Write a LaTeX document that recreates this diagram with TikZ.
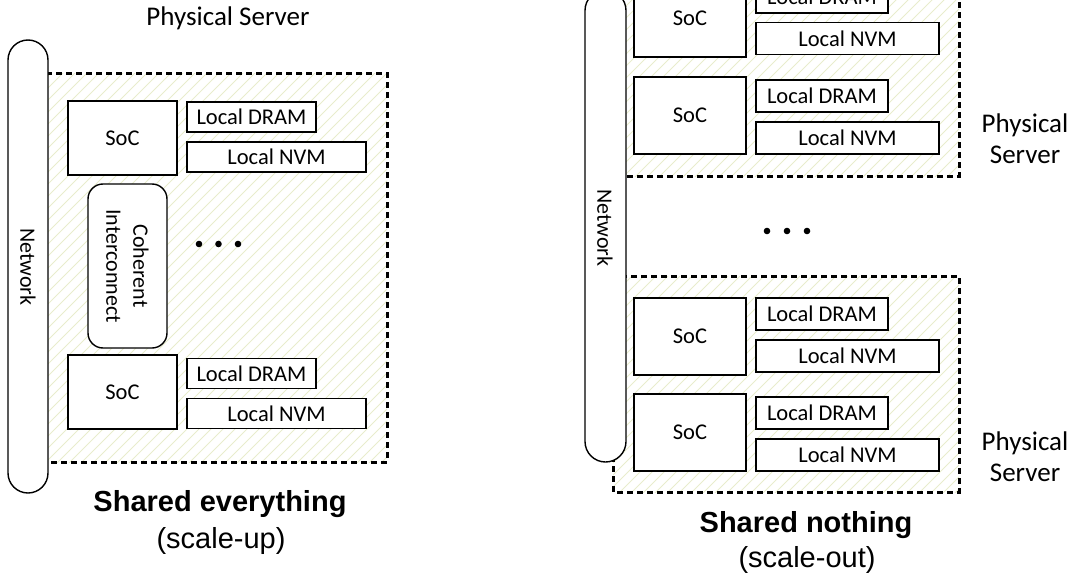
\documentclass[tikz,border=0pt]{standalone}
\usepackage{fontspec}
\setmainfont{Carlito}
\newfontfamily\arialf{Liberation Sans}
\definecolor{hatchc}{RGB}{232,236,205}
\begin{document}
\begin{tikzpicture}[x=1pt,y=-1pt,
  box/.style={draw, line width=1.4pt, fill=white, inner sep=0pt, font=\fontsize{22.5}{26}\selectfont},
  lsoc/.style={box, minimum width=109pt, minimum height=74pt},
  ldram/.style={box, minimum width=129pt, minimum height=30pt},
  lnvm/.style={box, minimum width=179pt, minimum height=30pt},
  rsoc/.style={box, minimum width=112pt, minimum height=77pt},
  rdram/.style={box, minimum width=132pt, minimum height=32pt},
  rnvm/.style={box, minimum width=183pt, minimum height=32pt},
  pill/.style={draw, line width=1.4pt, fill=white, inner sep=0pt, rounded corners=20pt},
  server/.style={draw, line width=3pt, dash pattern=on 6pt off 4pt},
  hatch/.style={draw=hatchc, line width=0.9pt},
  lbl/.style={font=\fontsize{22}{27}\selectfont, align=center},
  plbl/.style={font=\fontsize{27}{31}\selectfont, align=center},
  title/.style={font=\arialf\bfseries\fontsize{29}{33}\selectfont},
  sub/.style={font=\arialf\fontsize{29}{33}\selectfont},
  dot/.style={fill=black}
]
\path[use as bounding box, clip] (0,0) rectangle (1073,578);

% ---------- left: shared everything ----------
\begin{scope}
  \clip (48,73) rectangle (387,462);
  \foreach \i in {-500,-488,...,400} { \draw[hatch] (\i,480) -- ++(450,-450); }
\end{scope}
\draw[server] (40,73) rectangle (387,462);

\node[pill, minimum width=40pt, minimum height=453pt] (netL) at (28,266.5) {};
\node[lbl, rotate=-90] (netLt) at (28,267) {Network};

\node[plbl] (psL) at (228,18) {Physical Server};

\node[lsoc] (socL1) at (122.5,138) {SoC};
\node[ldram] (dramL1) at (251.5,117) {Local DRAM};
\node[lnvm] (nvmL1) at (276.5,157) {Local NVM};

\node[draw, line width=1.4pt, fill=white, rounded corners=15pt, minimum width=79pt, minimum height=164pt, inner sep=0pt] (ci) at (127.5,266) {};
\node[lbl, rotate=-90] (cit) at (127.5,266) {Coherent\\Interconnect};

\fill[dot] (199,244) circle (3.3pt) (218.5,244) circle (3.3pt) (238,244) circle (3.3pt);

\node[lsoc] (socL2) at (122.5,392) {SoC};
\node[ldram] (dramL2) at (251.5,373.5) {Local DRAM};
\node[lnvm] (nvmL2) at (276.5,413.5) {Local NVM};

\node[title] (seT) at (220,504) {Shared everything};
\node[sub] (seS) at (221,541) {(scale-up)};

% ---------- right: shared nothing ----------
\begin{scope}
  \clip (613,-30) rectangle (959,176);
  \foreach \i in {-300,-288,...,1000} { \draw[hatch] (\i,200) -- ++(300,-300); }
\end{scope}
\draw[server] (613,-30) rectangle (959,176);

\begin{scope}
  \clip (613,276) rectangle (959,492);
  \foreach \i in {300,312,...,1000} { \draw[hatch] (\i,500) -- ++(300,-300); }
\end{scope}
\draw[server] (613,276) rectangle (959,492);

\node[pill, minimum width=41pt, minimum height=472pt, rounded corners=20.5pt] (netR) at (605.5,226) {};
\node[lbl, rotate=-90] (netRt) at (605,228) {Network};

\node[rsoc] (socR0) at (690,18.5) {SoC};
\node[rdram] (dramR0) at (822,-3) {Local DRAM};
\node[rnvm] (nvmR0) at (847.5,38.5) {Local NVM};

\node[rsoc] (socR1) at (690,115.5) {SoC};
\node[rdram] (dramR1) at (822,96) {Local DRAM};
\node[rnvm] (nvmR1) at (847.5,138) {Local NVM};

\node[plbl] (psR1) at (1025,139) {Physical\\Server};

\fill[dot] (767,231) circle (3.3pt) (787,231) circle (3.3pt) (807,231) circle (3.3pt);

\node[rsoc] (socR2) at (690,336.5) {SoC};
\node[rdram] (dramR2) at (822,314) {Local DRAM};
\node[rnvm] (nvmR2) at (847.5,356) {Local NVM};

\node[rsoc] (socR3) at (690,432.5) {SoC};
\node[rdram] (dramR3) at (822,413) {Local DRAM};
\node[rnvm] (nvmR3) at (847.5,455) {Local NVM};

\node[plbl] (psR2) at (1025,457) {Physical\\Server};

\node[title] (snT) at (806,525) {Shared nothing};
\node[sub] (snS) at (807,560) {(scale-out)};
\end{tikzpicture}
\end{document}
